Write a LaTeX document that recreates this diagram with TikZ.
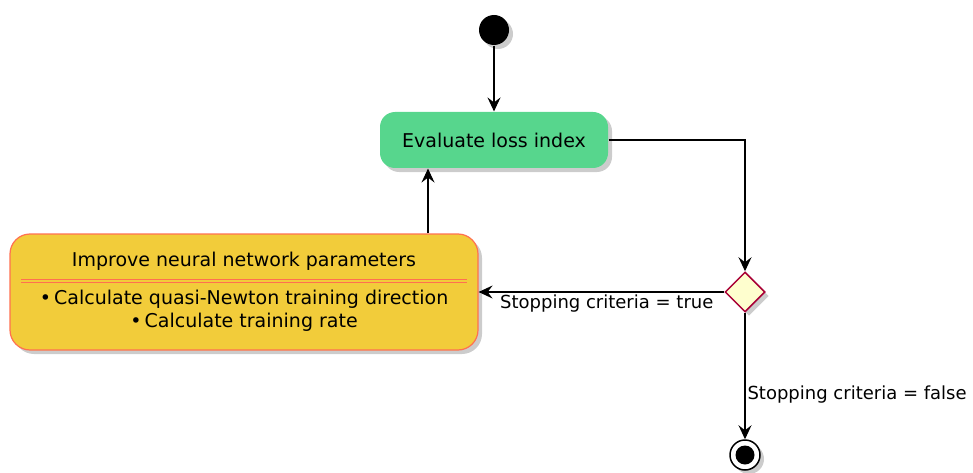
\documentclass[tikz,border=0pt]{standalone}
\usepackage{fontspec}
\setmainfont{DejaVu Sans}
\usetikzlibrary{arrows.meta,shapes.geometric,shadows}

\definecolor{evalgreen}{RGB}{87,214,141}
\definecolor{improvegold}{RGB}{242,204,58}
\definecolor{improveline}{RGB}{255,112,80}
\definecolor{choicefill}{RGB}{254,254,206}
\definecolor{choiceline}{RGB}{168,0,54}

\begin{document}
\begin{tikzpicture}[x=1pt,y=-1pt,->,>={Stealth[length=14pt,width=13pt,inset=5pt]},
                    line width=1.1pt,font=\fontsize{18}{22}\selectfont]

  \tikzstyle{shade}=[drop shadow={shadow xshift=4pt,shadow yshift=-4pt,fill=black!40,opacity=.5}]
  \tikzstyle{action}=[rectangle,rounded corners=15pt,shade,align=center,
                      font=\fontsize{19}{23}\selectfont]
  \tikzstyle{choice}=[diamond,aspect=1,draw=choiceline,line width=1.5pt,fill=choicefill,
                      minimum size=40pt,inner sep=0pt,shade]
  \tikzstyle{startstate}=[circle,fill=black,minimum size=30pt,inner sep=0pt,shade]
  \tikzstyle{endstate}=[circle,draw=black,line width=1.5pt,fill=white,minimum size=30pt,
                        inner sep=0pt,shade,
                        path picture={\fill[black] (path picture bounding box.center) circle (9.5pt);}]

  \useasboundingbox (0,0) rectangle (973,473);

  \node[startstate] (start) at (494,30) {};
  \node[action,fill=evalgreen,minimum width=228pt,minimum height=56pt] (eval) at (494,140)
       {Evaluate loss index};
  \node[choice] (check) at (745,292) {};
  \node[action,fill=improvegold,draw=improveline,line width=1.2pt,rounded corners=20pt,
        minimum width=468pt,minimum height=116pt] (improve) at (244,292)
       {Improve neural network parameters\\[15pt]
        \textbullet\,Calculate quasi-Newton training direction\\
        \textbullet\,Calculate training rate};
  \node[endstate] (stop) at (745,455) {};

  % separator inside the improve box
  \draw[-,improveline,line width=1pt] ([shift={(12,46)}]improve.north west) -- ([shift={(-12,46)}]improve.north east);
  \draw[-,improveline,line width=1pt] ([shift={(12,49.5)}]improve.north west) -- ([shift={(-12,49.5)}]improve.north east);

  \draw (start) -- (eval);
  \draw (eval.east) -| (check.north);
  \draw (check.west) -- node[pos=0,anchor=north east,xshift=-7pt,yshift=1pt] {Stopping criteria = true} (improve.east);
  \draw ([xshift=-66pt]eval.south |- improve.north) -- ([xshift=-66pt]eval.south);
  \draw (check.south) -- node[pos=0.65,right,inner sep=2pt] {Stopping criteria = false} (stop);
\end{tikzpicture}
\end{document}
